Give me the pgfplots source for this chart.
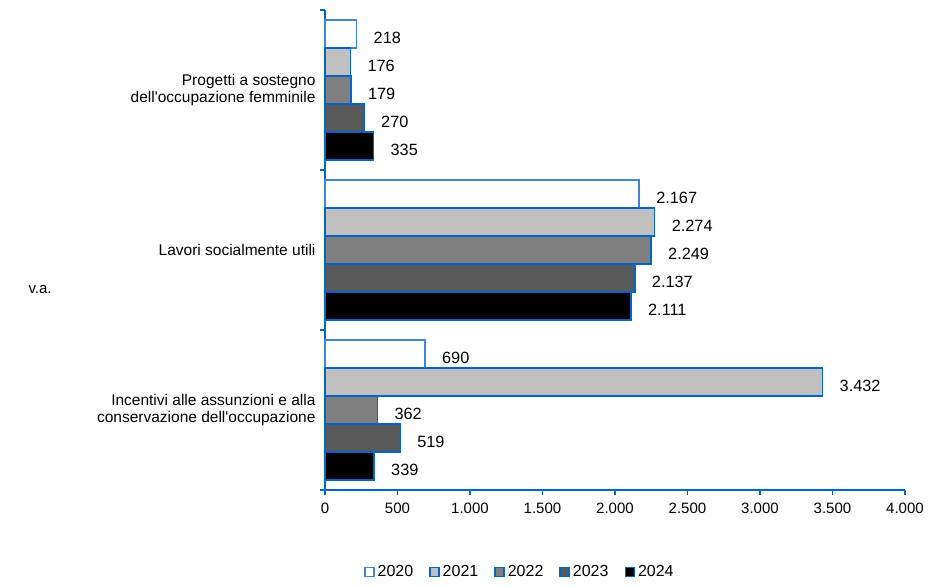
\documentclass[border=0pt]{standalone}
\usepackage{fontspec}
\setmainfont{Liberation Sans}
\usepackage{pgfplots}
\pgfplotsset{compat=1.18}
\definecolor{axblue}{HTML}{0066CC}
\definecolor{lightblue}{HTML}{3F86D6}
\definecolor{c2021}{HTML}{C0C0C0}
\definecolor{c2022}{HTML}{808080}
\definecolor{c2023}{HTML}{595959}
\begin{document}
\begin{tikzpicture}
\useasboundingbox (-325pt,-96pt) rectangle (606pt,490pt);
\begin{axis}[
  at={(0pt,0pt)}, anchor=south west,
  scale only axis, width=580pt, height=480pt,
  xbar, bar width=0.175,
  xmin=0, xmax=4000, ymin=-0.5, ymax=2.5,
  clip=false,
  axis lines=left,
  axis line style={axblue, line width=1.8pt, -},
  every tick/.style={axblue, line width=1.5pt},
  tick align=outside,
  major tick length=5pt,
  xtick={0,500,...,4000},
  ytick={-0.5,0.5,1.5,2.5},
  yticklabels={},
  extra y ticks={0,1,2},
  extra y tick labels={{Incentivi alle assunzioni e alla\\conservazione dell\textquotesingle occupazione},{Lavori socialmente utili},{Progetti a sostegno\\dell\textquotesingle occupazione femminile}},
  extra y tick style={major tick length=0pt, yticklabel style={align=right, font=\fontsize{15.5}{17.5}\selectfont, xshift=-6pt}},
  xticklabel style={font=\fontsize{15}{18}\selectfont, yshift=-4pt},
  nodes near coords,
  point meta=x,
  every node near coord/.append style={anchor=west, xshift=13pt, yshift=-3.5pt, font=\fontsize{16.3}{19}\selectfont, black},
  legend style={at={(0.336,-0.171)}, anchor=center, draw=none, legend columns=5,
    font=\fontsize{16}{19}\selectfont,
    /tikz/every odd column/.append style={column sep=1pt},
    /tikz/every even column/.append style={column sep=14pt}},
  legend image code/.code={\draw[#1, line width=1.5pt] (0pt,-4.5pt) rectangle (9pt,4.5pt);},
  /pgf/number format/1000 sep={.},
  /pgf/number format/assume math mode=true,
]
\addplot[fill=white, draw=lightblue, line width=1.5pt, bar shift=0.35] coordinates {(690,0) (2167,1) (218,2)};
\addplot[fill=c2021, draw=axblue, line width=1.5pt, bar shift=0.175] coordinates {(3432,0) (2274,1) (176,2)};
\addplot[fill=c2022, draw=axblue, line width=1.5pt, bar shift=0] coordinates {(362,0) (2249,1) (179,2)};
\addplot[fill=c2023, draw=axblue, line width=1.5pt, bar shift=-0.175] coordinates {(519,0) (2137,1) (270,2)};
\addplot[fill=black, draw=axblue, line width=1.5pt, bar shift=-0.35] coordinates {(339,0) (2111,1) (335,2)};
\legend{2020,2021,2022,2023,2024}
\end{axis}
\node[anchor=west, font=\fontsize{15}{18}\selectfont] at (-300pt,200pt) {v.a.};
\end{tikzpicture}
\end{document}
